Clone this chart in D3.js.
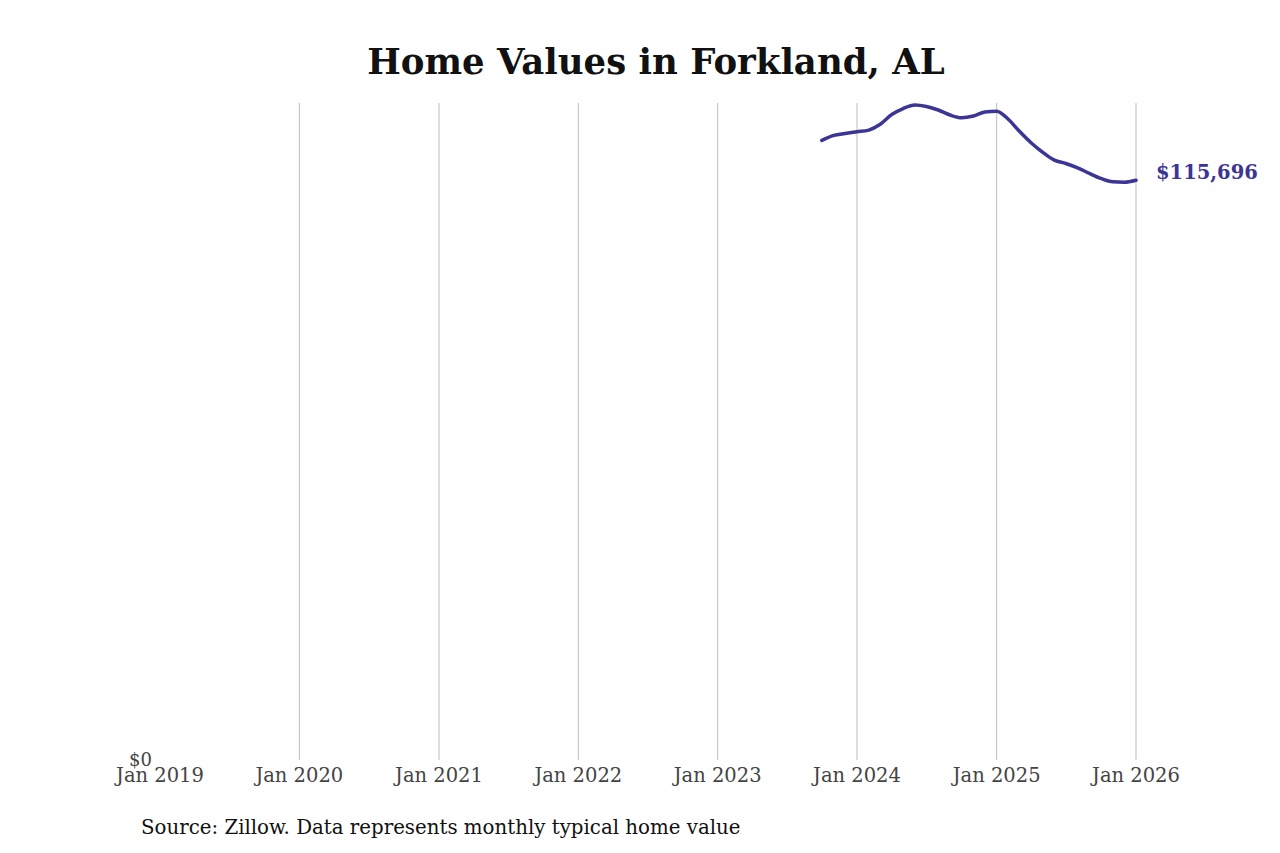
<!DOCTYPE html>
<html>
<head>
<meta charset="utf-8">
<script src="https://cdn.jsdelivr.net/npm/d3@7"></script>
<style>
  html, body { margin: 0; padding: 0; background: #fff; }
  svg { display: block; }
  text { font-family: "DejaVu Serif", serif; }
</style>
</head>
<body>
<svg id="chart" width="1280" height="853"></svg>
<script>
const titleText = "Home Values in Forkland, AL";
const sourceText = "Source: Zillow. Data represents monthly typical home value";
const months = ["2023-10","2023-11","2023-12","2024-01","2024-02","2024-03","2024-04","2024-05","2024-06","2024-07","2024-08","2024-09","2024-10","2024-11","2024-12","2025-01","2025-02","2025-03","2025-04","2025-05","2025-06","2025-07","2025-08","2025-09","2025-10","2025-11","2025-12","2026-01"];
const values = [123630,124630,125020,125360,125700,126800,128800,130000,130700,130400,129700,128700,128150,128500,129300,129450,127800,125500,123170,121300,119700,119030,118170,117040,116040,115370,115300,115696];
const tickYears = [2019,2020,2021,2022,2023,2024,2025,2026];
const tickLabels = tickYears.map(y => "Jan " + y);

const svg = d3.select("#chart");
const parse = d3.timeParse("%Y-%m");
const data = months.map((m, i) => ({ date: parse(m), value: values[i] }));

const x = d3.scaleTime()
  .domain([new Date(2019, 0, 1), new Date(2026, 0, 1)])
  .range([160, 1136]);
const y = d3.scaleLinear()
  .domain([0, d3.max(values)])
  .range([760, 105]);

// gridlines
svg.append("g").selectAll("line")
  .data(tickYears.slice(1))
  .join("line")
  .attr("x1", d => x(new Date(d, 0, 1)))
  .attr("x2", d => x(new Date(d, 0, 1)))
  .attr("y1", 103)
  .attr("y2", 760)
  .attr("stroke", "#bdbdbd")
  .attr("stroke-width", 1);

// x axis labels
svg.append("g").selectAll("text")
  .data(tickYears)
  .join("text")
  .attr("x", d => x(new Date(d, 0, 1)))
  .attr("y", 782)
  .attr("text-anchor", "middle")
  .attr("font-size", 19.5)
  .attr("fill", "#444")
  .text((d, i) => tickLabels[i]);

// y axis label $0
svg.append("text")
  .attr("x", 152)
  .attr("y", y(0) + 6)
  .attr("text-anchor", "end")
  .attr("font-size", 18)
  .attr("fill", "#444")
  .text(d3.format("$,")(0));

// line
const line = d3.line()
  .x(d => x(d.date))
  .y(d => y(d.value))
  .curve(d3.curveMonotoneX);

svg.append("path")
  .datum(data)
  .attr("d", line)
  .attr("fill", "none")
  .attr("stroke", "#3b3596")
  .attr("stroke-width", 3.5)
  .attr("stroke-linejoin", "round")
  .attr("stroke-linecap", "round");

// end label
const last = data[data.length - 1];
svg.append("text")
  .attr("x", x(last.date) + 20)
  .attr("y", y(last.value) - 1)
  .attr("font-size", 19.5)
  .attr("font-weight", "bold")
  .attr("fill", "#3b3596")
  .text(d3.format("$,")(last.value));

// title
svg.append("text")
  .attr("x", 656)
  .attr("y", 74)
  .attr("text-anchor", "middle")
  .attr("font-size", 35.5)
  .attr("font-weight", "bold")
  .attr("fill", "#111")
  .text(titleText);

// source
svg.append("text")
  .attr("x", 141)
  .attr("y", 834)
  .attr("font-size", 19.8)
  .attr("fill", "#111")
  .text(sourceText);
</script>
</body>
</html>
